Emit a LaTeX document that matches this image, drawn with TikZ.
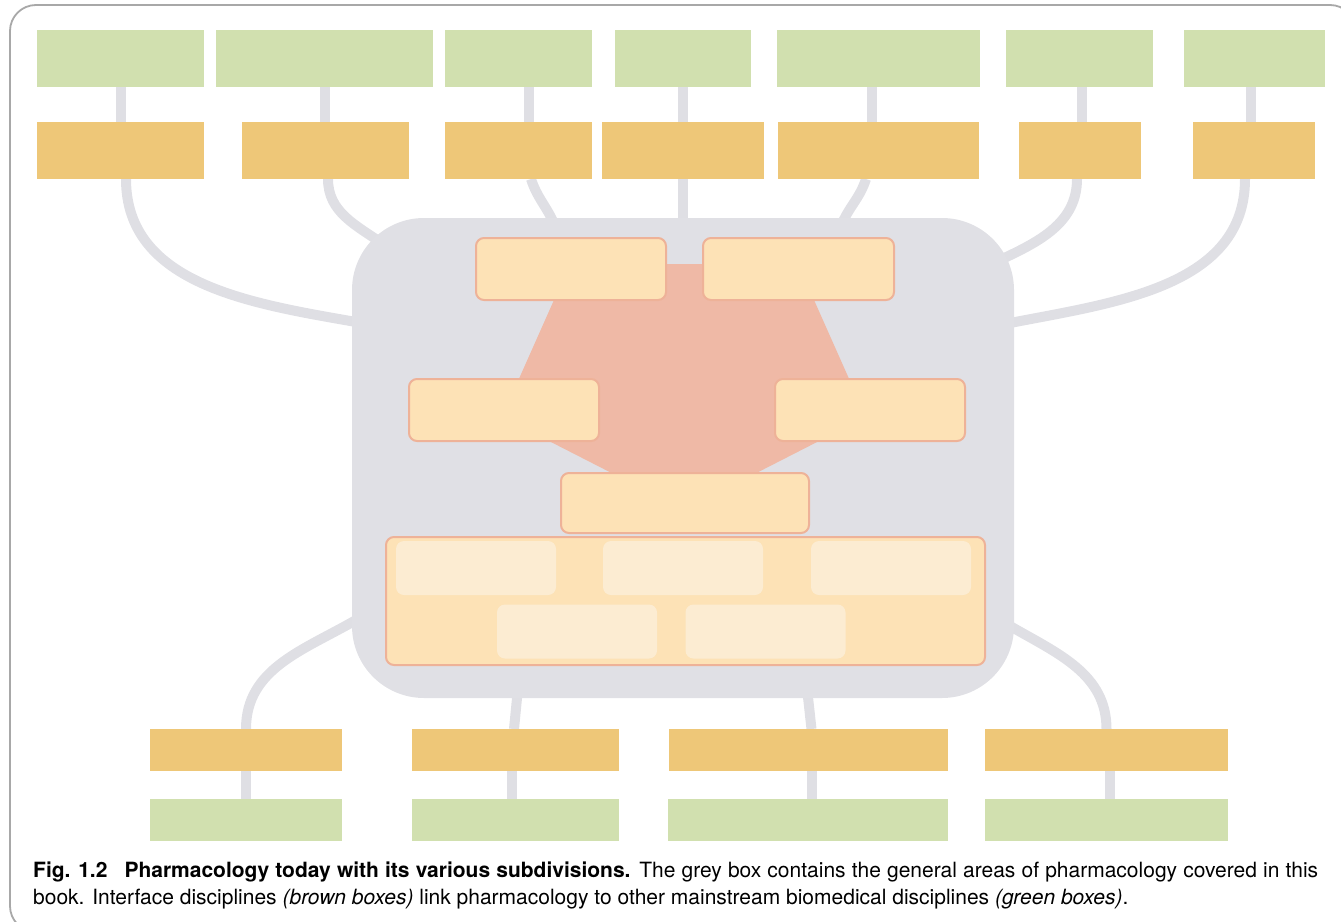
\documentclass[tikz,border=0pt]{standalone}
\usepackage{fontspec}
\setmainfont{TeX Gyre Heros}
\usetikzlibrary{positioning,backgrounds}
\definecolor{discgreen}{RGB}{209,224,175}
\definecolor{ifacebrown}{RGB}{238,199,120}
\definecolor{coregrey}{RGB}{224,224,229}
\definecolor{linkgrey}{RGB}{223,223,228}
\definecolor{areacream}{RGB}{253,226,182}
\definecolor{areaedge}{RGB}{238,178,152}
\definecolor{pentsalmon}{RGB}{239,185,166}
\definecolor{subcream}{RGB}{252,236,210}
\definecolor{framegrey}{RGB}{168,168,168}

\begin{document}
\begin{tikzpicture}[x=1pt, y=1pt,
  disc/.style={fill=discgreen, inner sep=0pt, outer sep=0pt, minimum height=57pt},
  iface/.style={fill=ifacebrown, inner sep=0pt, outer sep=0pt, minimum height=57pt},
  area/.style={fill=areacream, draw=areaedge, line width=2pt, rounded corners=8pt, inner sep=0pt, outer sep=0pt, minimum height=62pt},
  subarea/.style={fill=subcream, rounded corners=8pt, inner sep=0pt, outer sep=0pt, minimum width=160pt, minimum height=54pt},
  link/.style={draw=linkgrey, line width=10pt}]
\useasboundingbox (0,0) rectangle (1341,-921);
\clip (0,0) rectangle (1341,-921);

% Frame
\draw[framegrey, line width=1.8pt, rounded corners=26pt] (10,-5) rectangle (1356,-932);

% Grey box
\node[fill=coregrey, rounded corners=72pt, inner sep=0pt, outer sep=0pt, minimum width=662pt, minimum height=480pt] (core) at (683,-458) {};

% Top disciplines
\node[disc, minimum width=167pt] (disc1) at (120.5,-58.5) {};
\node[disc, minimum width=217pt] (disc2) at (324.5,-58.5) {};
\node[disc, minimum width=147pt] (disc3) at (518.5,-58.5) {};
\node[disc, minimum width=136pt] (disc4) at (683,-58.5) {};
\node[disc, minimum width=203pt] (disc5) at (878.5,-58.5) {};
\node[disc, minimum width=147pt] (disc6) at (1079.5,-58.5) {};
\node[disc, minimum width=141pt] (disc7) at (1254.5,-58.5) {};

% Top interfaces
\node[iface, minimum width=167pt] (iface1) at (120.5,-150.5) {};
\node[iface, minimum width=167pt] (iface2) at (325.5,-150.5) {};
\node[iface, minimum width=147pt] (iface3) at (518.5,-150.5) {};
\node[iface, minimum width=162pt] (iface4) at (683,-150.5) {};
\node[iface, minimum width=201pt] (iface5) at (878.5,-150.5) {};
\node[iface, minimum width=122pt] (iface6) at (1080,-150.5) {};
\node[iface, minimum width=122pt] (iface7) at (1254,-150.5) {};

% Pentagon behind the areas
\fill[pentsalmon] (570,-264) -- (798,-264) -- (866,-417) -- (684,-510) -- (502,-417) -- cycle;

% Areas of pharmacology
\node[area, minimum width=190pt] (area1) at (571,-269) {};
\node[area, minimum width=191pt] (area2) at (798.5,-269) {};
\node[area, minimum width=190pt] (area3) at (504,-410) {};
\node[area, minimum width=190pt] (area4) at (870,-410) {};
\node[area, minimum width=248pt, minimum height=60pt] (area5) at (685,-503) {};
\node[area, minimum width=599pt, minimum height=128pt] (base) at (685.5,-601) {};
\node[subarea] (sub1) at (476,-568) {};
\node[subarea] (sub2) at (683,-568) {};
\node[subarea] (sub3) at (891,-568) {};
\node[subarea] (sub4) at (577,-631.5) {};
\node[subarea] (sub5) at (765.5,-631.5) {};

% Bottom interfaces and disciplines
\node[iface, minimum width=192pt, minimum height=42pt] (ifaceb1) at (246,-750) {};
\node[iface, minimum width=207pt, minimum height=42pt] (ifaceb2) at (515.5,-750) {};
\node[iface, minimum width=279pt, minimum height=42pt] (ifaceb3) at (808.5,-750) {};
\node[iface, minimum width=243pt, minimum height=42pt] (ifaceb4) at (1106.5,-750) {};
\node[disc, minimum width=192pt, minimum height=42pt] (discb1) at (246,-820) {};
\node[disc, minimum width=207pt, minimum height=42pt] (discb2) at (515.5,-820) {};
\node[disc, minimum width=280pt, minimum height=42pt] (discb3) at (808,-820) {};
\node[disc, minimum width=243pt, minimum height=42pt] (discb4) at (1106.5,-820) {};

% Connectors
\begin{scope}[on background layer]
\draw[link] ([xshift=0.5]disc1.south) -- ([xshift=0.5]iface1.north);
\draw[link] (disc2.south) -- ([xshift=-1]iface2.north);
\draw[link] ([xshift=10.5]disc3.south) -- ([xshift=10.5]iface3.north);
\draw[link] (disc4.south) -- (iface4.north);
\draw[link] ([xshift=-6.5]disc5.south) -- ([xshift=-6.5]iface5.north);
\draw[link] ([xshift=2.5]disc6.south) -- ([xshift=2]iface6.north);
\draw[link] ([xshift=-3.5]disc7.south) -- ([xshift=-3]iface7.north);

\draw[link] ([xshift=5.5]iface1.south) to[out=-90, in=170] ([xshift=4, yshift=-104]core.north west);
\draw[link] ([xshift=2.5]iface2.south) to[out=-90, in=145] ([xshift=31, yshift=-26]core.north west);
\draw[link] ([xshift=12.5]iface3.south) to[out=-72, in=112] ([xshift=203, yshift=-8]core.north west);
\draw[link] (iface4.south) -- (core.north);
\draw[link] ([xshift=-12.5]iface5.south) to[out=-108, in=68] ([xshift=-173, yshift=-8]core.north east);
\draw[link] ([xshift=-3]iface6.south) to[out=-90, in=25] ([xshift=-14, yshift=-42]core.north east);
\draw[link] ([xshift=-9]iface7.south) to[out=-90, in=11] ([xshift=-4, yshift=-105]core.north east);

\draw[link] ([xshift=4, yshift=78]core.south west) to[out=210, in=90] (ifaceb1.north);
\draw[link] ([xshift=-165, yshift=10]core.south) -- ([xshift=-1.5]ifaceb2.north);
\draw[link] ([xshift=124, yshift=10]core.south) -- ([xshift=3]ifaceb3.north);
\draw[link] ([xshift=-4, yshift=72]core.south east) to[out=-30, in=90] (ifaceb4.north);

\draw[link] (ifaceb1.south) -- (discb1.north);
\draw[link] ([xshift=-3.5]ifaceb2.south) -- ([xshift=-3.5]discb2.north);
\draw[link] ([xshift=3.5]ifaceb3.south) -- ([xshift=4]discb3.north);
\draw[link] ([xshift=3.5]ifaceb4.south) -- ([xshift=3.5]discb4.north);
\end{scope}

% Caption
\node[anchor=north west, inner sep=0pt, text width=1285pt, align=justify, font=\fontsize{21}{26.5}\selectfont] (caption) at (33,-862)
  {\textbf{\mbox{Fig. 1.2}}\hspace{17pt}\textbf{Pharmacology today with its various subdivisions.} The grey box contains the general areas of pharmacology covered in this\linebreak book. Interface disciplines \textit{(brown boxes)} link pharmacology to other mainstream biomedical disciplines \textit{(green boxes)}.};
\end{tikzpicture}
\end{document}
